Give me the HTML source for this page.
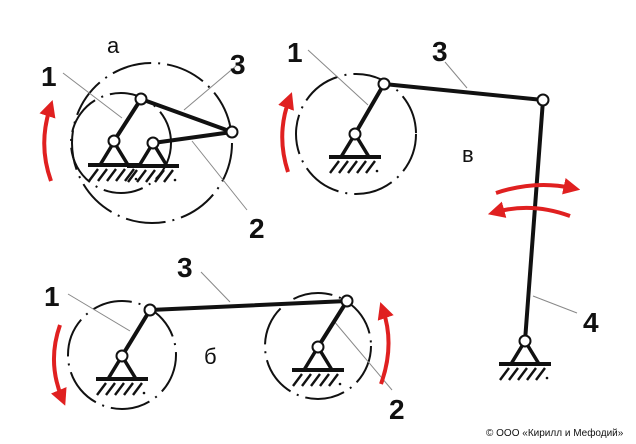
<!DOCTYPE html>
<html><head><meta charset="utf-8"><style>
html,body{margin:0;padding:0;background:#fff;}
svg{display:block}
.t{font-family:"Liberation Sans",sans-serif;font-weight:bold;font-size:28px;fill:#111}
.s{font-family:"Liberation Sans",sans-serif;font-size:22px;fill:#111}
</style></head><body>
<svg width="636" height="444" viewBox="0 0 636 444" xmlns="http://www.w3.org/2000/svg">
<defs>
<g id="gnd">
<path d="M0,0 L-14,23 M0,0 L14,23" stroke="#111" stroke-width="3.5" fill="none"/>
<line x1="-26" y1="23" x2="26" y2="23" stroke="#111" stroke-width="4"/>
<path d="M-16,27 L-25,39 M-7,27 L-16,39 M2,27 L-7,39 M11,27 L2,39 M20,27 L11,39" stroke="#111" stroke-width="2.4"/>
<circle cx="22" cy="37" r="1.3" fill="#111"/>
</g>
<marker id="ah" viewBox="0 0 10 10" refX="5" refY="5" markerWidth="4.2" markerHeight="4.2" orient="auto"><path d="M0,0 L10,5 L0,10 z" fill="#e02020"/></marker>
</defs>
<g fill="none" stroke="#111" stroke-width="2" stroke-dasharray="40 7 2 7">
<circle cx="152" cy="143" r="80"/>
<circle cx="121" cy="143" r="50"/>
<circle cx="356" cy="134" r="60"/>
<circle cx="122" cy="355" r="54"/>
<circle cx="318" cy="346" r="53"/>
</g>
<g stroke="#888" stroke-width="1" fill="none">
<line x1="63" y1="73" x2="122" y2="118"/>
<line x1="236" y1="66" x2="184" y2="110"/>
<line x1="192" y1="141" x2="247" y2="210"/>
<line x1="308" y1="50" x2="368" y2="105"/>
<line x1="445" y1="62" x2="467" y2="88"/>
<line x1="533" y1="296" x2="577" y2="313"/>
<line x1="68" y1="294" x2="130" y2="331"/>
<line x1="201" y1="272" x2="230" y2="302"/>
<line x1="333" y1="320" x2="392" y2="390"/>
</g>
<g stroke="#111" stroke-width="4" fill="none" stroke-linecap="round">
<line x1="114" y1="141" x2="141" y2="99"/>
<line x1="141" y1="99" x2="232" y2="132"/>
<line x1="153" y1="143" x2="232" y2="132"/>
<line x1="355" y1="134" x2="384" y2="84"/>
<line x1="384" y1="84" x2="543" y2="100"/>
<line x1="543" y1="100" x2="525" y2="341"/>
<line x1="122" y1="356" x2="150" y2="310"/>
<line x1="150" y1="310" x2="347" y2="301"/>
<line x1="318" y1="347" x2="347" y2="301"/>
</g>
<use href="#gnd" x="114" y="142"/>
<use href="#gnd" x="153" y="143"/>
<use href="#gnd" x="355" y="134"/>
<use href="#gnd" x="525" y="341"/>
<use href="#gnd" x="122" y="356"/>
<use href="#gnd" x="318" y="347"/>
<g fill="#fff" stroke="#111" stroke-width="2">
<circle cx="114" cy="141" r="5.5"/><circle cx="141" cy="99" r="5.5"/><circle cx="232" cy="132" r="5.5"/><circle cx="153" cy="143" r="5.5"/>
<circle cx="355" cy="134" r="5.5"/><circle cx="384" cy="84" r="5.5"/><circle cx="543" cy="100" r="5.5"/><circle cx="525" cy="341" r="5.5"/>
<circle cx="122" cy="356" r="5.5"/><circle cx="150" cy="310" r="5.5"/><circle cx="347" cy="301" r="5.5"/><circle cx="318" cy="347" r="5.5"/>
</g>
<g stroke="#e02020" stroke-width="4" fill="none" marker-end="url(#ah)">
<path d="M51,181 Q38,145 50,108"/>
<path d="M288,172 Q276,135 289,100"/>
<path d="M60,325 Q47,362 62,398"/>
<path d="M381,384 Q395,345 383,310"/>
<path d="M496,193 Q535,180 572,188"/>
<path d="M570,216 Q532,202 496,212"/>
</g>
<text class="t" x="41" y="86">1</text>
<text class="s" x="107" y="53">а</text>
<text class="t" x="230" y="74">3</text>
<text class="t" x="249" y="238">2</text>
<text class="t" x="287" y="62">1</text>
<text class="t" x="432" y="61">3</text>
<text class="s" x="462" y="162">в</text>
<text class="t" x="583" y="332">4</text>
<text class="t" x="44" y="306">1</text>
<text class="t" x="177" y="277">3</text>
<text class="s" x="204" y="364">б</text>
<text class="t" x="389" y="419">2</text>
<text x="486" y="436" font-family="Liberation Sans,sans-serif" font-size="10" fill="#111">© ООО «Кирилл и Мефодий»</text>
</svg>
</body></html>
